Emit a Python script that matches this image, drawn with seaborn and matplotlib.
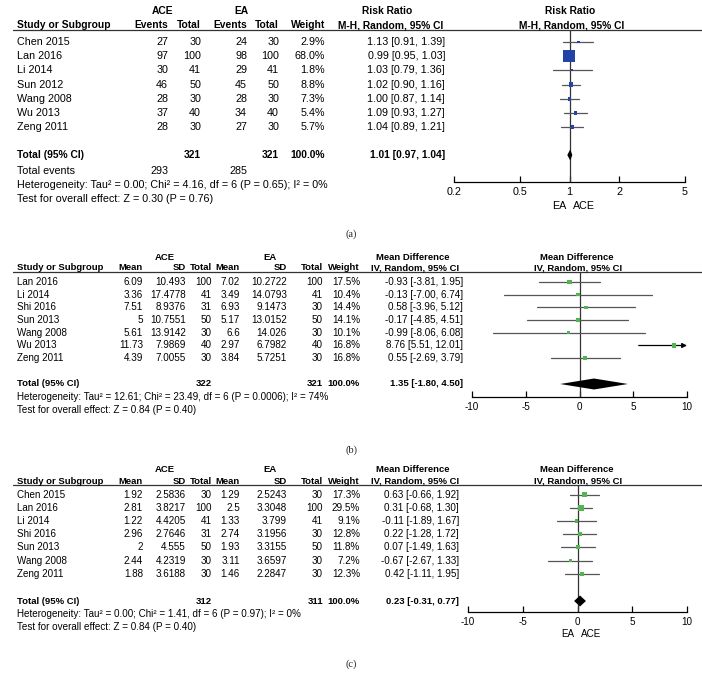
import numpy as np
import pandas as pd
import matplotlib
matplotlib.use("Agg")
import matplotlib.pyplot as plt
import seaborn as sns

# ---- panel (a): risk ratio ----
a_studies = ["Chen 2015", "Lan 2016", "Li 2014", "Sun 2012", "Wang 2008", "Wu 2013", "Zeng 2011"]
a_ace_events = [27, 97, 30, 46, 28, 37, 28]
a_ace_total = [30, 100, 41, 50, 30, 40, 30]
a_ea_events = [24, 98, 29, 45, 28, 34, 27]
a_ea_total = [30, 100, 41, 50, 30, 40, 30]
a_weight = [2.9, 68.0, 1.8, 8.8, 7.3, 5.4, 5.7]
a_est = [1.13, 0.99, 1.03, 1.02, 1.00, 1.09, 1.04]
a_lo = [0.91, 0.95, 0.79, 0.90, 0.87, 0.93, 0.89]
a_hi = [1.39, 1.03, 1.36, 1.16, 1.14, 1.27, 1.21]
a_pooled = [1.01, 0.97, 1.04]
a_het = "Heterogeneity: Tau² = 0.00; Chi² = 4.16, df = 6 (P = 0.65); I² = 0%"
a_test = "Test for overall effect: Z = 0.30 (P = 0.76)"
a_ticks = [0.2, 0.5, 1, 2, 5]

# ---- panel (b): mean difference ----
b_studies = ["Lan 2016", "Li 2014", "Shi 2016", "Sun 2013", "Wang 2008", "Wu 2013", "Zeng 2011"]
b_ace_mean = [6.09, 3.36, 7.51, 5, 5.61, 11.73, 4.39]
b_ace_sd = [10.493, 17.4778, 8.9376, 10.7551, 13.9142, 7.9869, 7.0055]
b_ace_total = [100, 41, 31, 50, 30, 40, 30]
b_ea_mean = [7.02, 3.49, 6.93, 5.17, 6.6, 2.97, 3.84]
b_ea_sd = [10.2722, 14.0793, 9.1473, 13.0152, 14.026, 6.7982, 5.7251]
b_ea_total = [100, 41, 30, 50, 30, 40, 30]
b_weight = [17.5, 10.4, 14.4, 14.1, 10.1, 16.8, 16.8]
b_est = [-0.93, -0.13, 0.58, -0.17, -0.99, 8.76, 0.55]
b_lo = [-3.81, -7.00, -3.96, -4.85, -8.06, 5.51, -2.69]
b_hi = [1.95, 6.74, 5.12, 4.51, 6.08, 12.01, 3.79]
b_pooled = [1.35, -1.80, 4.50]
b_het = "Heterogeneity: Tau² = 12.61; Chi² = 23.49, df = 6 (P = 0.0006); I² = 74%"
b_test = "Test for overall effect: Z = 0.84 (P = 0.40)"

# ---- panel (c): mean difference ----
c_studies = ["Chen 2015", "Lan 2016", "Li 2014", "Shi 2016", "Sun 2013", "Wang 2008", "Zeng 2011"]
c_ace_mean = [1.92, 2.81, 1.22, 2.96, 2, 2.44, 1.88]
c_ace_sd = [2.5836, 3.8217, 4.4205, 2.7646, 4.555, 4.2319, 3.6188]
c_ace_total = [30, 100, 41, 31, 50, 30, 30]
c_ea_mean = [1.29, 2.5, 1.33, 2.74, 1.93, 3.11, 1.46]
c_ea_sd = [2.5243, 3.3048, 3.799, 3.1956, 3.3155, 3.6597, 2.2847]
c_ea_total = [30, 100, 41, 30, 50, 30, 30]
c_weight = [17.3, 29.5, 9.1, 12.8, 11.8, 7.2, 12.3]
c_est = [0.63, 0.31, -0.11, 0.22, 0.07, -0.67, 0.42]
c_lo = [-0.66, -0.68, -1.89, -1.28, -1.49, -2.67, -1.11]
c_hi = [1.92, 1.30, 1.67, 1.72, 1.63, 1.33, 1.95]
c_pooled = [0.23, -0.31, 0.77]
c_het = "Heterogeneity: Tau² = 0.00; Chi² = 1.41, df = 6 (P = 0.97); I² = 0%"
c_test = "Test for overall effect: Z = 0.84 (P = 0.40)"

total_weight = "100.0%"
md_ticks = [-10, -5, 0, 5, 10]

W, H = 702, 681
BLUE = "#2144a6"
GREEN = "#52b552"

sns.set_theme(style="white")
plt.rcParams["font.family"] = ["Liberation Sans", "DejaVu Sans"]

fig = plt.figure(figsize=(W / 100, H / 100), dpi=100)
bg = fig.add_axes([0, 0, 1, 1])
bg.set_xlim(0, W)
bg.set_ylim(H, 0)
bg.axis("off")


def put(x, y, s, ha="left", bold=False, size=7.4):
    # regular text in the source is a little wider than the bold headers
    fs = size if bold else size * 1.045
    bg.text(x, y, s, ha=ha, va="center", fontsize=fs,
            fontweight="bold" if bold else "normal", color="black")


def caption(y, s):
    bg.text(351, y, s, ha="center", va="center", fontsize=7.5, family="Liberation Serif")


def g(v):
    return f"{v:g}"


def forest(top, bottom, left, right, row0, sp, est, lo, hi, weight, pooled, total_y,
           xlim, ticks, ref, color, k, log, size):
    ax = fig.add_axes([left / W, 1 - bottom / H, (right - left) / W, (bottom - top) / H])
    ax.patch.set_visible(False)
    df = pd.DataFrame({"est": est, "lo": lo, "hi": hi, "w": weight,
                       "row": np.arange(len(est))})
    if log:
        ax.set_xscale("log")
    ax.axvline(ref, color="#333333", lw=0.9, zorder=1)
    for r in df.itertuples():
        if r.hi > xlim[1]:
            # CI runs off the scale: clip with an arrow
            ax.annotate("", xy=(xlim[1], r.row), xytext=(r.lo, r.row),
                        arrowprops=dict(arrowstyle="-|>", color="black", lw=0.9,
                                        mutation_scale=7, shrinkA=0, shrinkB=0),
                        annotation_clip=False)
        else:
            ax.plot([r.lo, r.hi], [r.row, r.row], color="#555555", lw=0.9, zorder=2)
    wmin, wmax = min(weight), max(weight)
    c = 0.5184 * k * k  # marker area proportional to weight
    sns.scatterplot(data=df, x="est", y="row", size="w", sizes=(c * wmin, c * wmax),
                    size_norm=(wmin, wmax), marker="s", color=color, linewidth=0,
                    legend=False, ax=ax, zorder=3)
    rt = (total_y - row0) / sp
    h = 5.5 / sp
    ax.fill([pooled[1], pooled[0], pooled[2], pooled[0]], [rt, rt - h, rt, rt + h],
            color="black", lw=0, zorder=3)
    ax.set_xlim(*xlim)
    ax.set_ylim((bottom - row0) / sp, (top - row0) / sp)
    ax.set_xticks(ticks)
    ax.set_xticklabels([g(t) for t in ticks])
    ax.minorticks_off()
    ax.set_yticks([])
    ax.set_xlabel("")
    ax.set_ylabel("")
    for s in ["top", "left", "right"]:
        ax.spines[s].set_visible(False)
    ax.spines["bottom"].set_color("black")
    ax.spines["bottom"].set_linewidth(0.9)
    ax.tick_params(axis="x", direction="in", length=4, width=0.9, pad=3.5,
                   labelsize=size * 1.045, colors="black", bottom=True)
    return ax


def side_labels(ax, ref, y, size):
    for s, dx, ha in [("EA", -2.5, "right"), ("ACE", 2.5, "left")]:
        ax.annotate(s, xy=(ref, 1 - y / H), xycoords=("data", "figure fraction"),
                    xytext=(dx, 0), textcoords="offset points", ha=ha, va="center",
                    fontsize=size * 1.045, color="black", annotation_clip=False)


# ================= panel (a) =================
sa = 7.4
row0, sp = 42, 14.2
put(162, 11, "ACE", "center", True, sa)
put(241, 11, "EA", "center", True, sa)
put(387, 11, "Risk Ratio", "center", True, sa)
put(570, 11, "Risk Ratio", "center", True, sa)
put(17, 25, "Study or Subgroup", "left", True, sa)
for x, s in [(168, "Events"), (201, "Total"), (247, "Events"), (279, "Total"), (325, "Weight")]:
    put(x, 25, s, "right", True, sa)
put(391, 25, "M-H, Random, 95% CI", "center", True, sa)
put(572, 25, "M-H, Random, 95% CI", "center", True, sa)
bg.plot([13, W], [30, 30], color="#333333", lw=0.9)
for i, name in enumerate(a_studies):
    y = row0 + i * sp
    put(17, y, name, size=sa)
    put(168, y, str(a_ace_events[i]), "right", size=sa)
    put(201, y, str(a_ace_total[i]), "right", size=sa)
    put(247, y, str(a_ea_events[i]), "right", size=sa)
    put(279, y, str(a_ea_total[i]), "right", size=sa)
    put(325, y, f"{a_weight[i]:.1f}%", "right", size=sa)
    put(445, y, f"{a_est[i]:.2f} [{a_lo[i]:.2f}, {a_hi[i]:.2f}]", "right", size=sa)
put(17, 155, "Total (95% CI)", "left", True, sa)
put(201, 155, str(sum(a_ace_total)), "right", True, sa)
put(279, 155, str(sum(a_ea_total)), "right", True, sa)
put(325, 155, total_weight, "right", True, sa)
put(445, 155, f"{a_pooled[0]:.2f} [{a_pooled[1]:.2f}, {a_pooled[2]:.2f}]", "right", True, sa)
put(17, 171.5, "Total events", size=sa)
put(168, 171.5, str(sum(a_ace_events)), "right", size=sa)
put(247, 171.5, str(sum(a_ea_events)), "right", size=sa)
put(17, 185, a_het, size=sa)
put(17, 198.5, a_test, size=sa)
axa = forest(30, 182, 454, 685, row0, sp, a_est, a_lo, a_hi, a_weight, a_pooled, 155,
             (0.2, 5), a_ticks, 1, BLUE, 1.45, True, sa)
side_labels(axa, 1, 206, sa)
caption(234, "(a)")


# ================= panels (b) and (c) =================
def md_panel(studies, am, asd, an, em, esd, en, weight, est, lo, hi, pooled, het, test,
             h1, h2, line, row0, sp, total_y, het_y, test_y, axis_y, ax_left, est_right,
             k, sub_y):
    sz = 6.8
    cols = [143, 186, 212, 240, 287, 323, 360]
    put(165, h1, "ACE", "center", True, sz)
    put(270, h1, "EA", "center", True, sz)
    put(413, h1, "Mean Difference", "center", True, sz)
    put(577, h1, "Mean Difference", "center", True, sz)
    put(17, h2, "Study or Subgroup", "left", True, sz)
    for x, s in zip(cols, ["Mean", "SD", "Total", "Mean", "SD", "Total", "Weight"]):
        put(x, h2, s, "right", True, sz)
    put(415, h2, "IV, Random, 95% CI", "center", True, sz)
    put(578, h2, "IV, Random, 95% CI", "center", True, sz)
    bg.plot([13, W], [line, line], color="#333333", lw=0.9)
    for i, name in enumerate(studies):
        y = row0 + i * sp
        put(17, y, name, size=sz)
        vals = [g(am[i]), g(asd[i]), str(an[i]), g(em[i]), g(esd[i]), str(en[i]),
                f"{weight[i]:.1f}%"]
        for x, v in zip(cols, vals):
            put(x, y, v, "right", size=sz)
        put(est_right, y, f"{est[i]:.2f} [{lo[i]:.2f}, {hi[i]:.2f}]", "right", size=sz)
    put(17, total_y, "Total (95% CI)", "left", True, sz)
    put(cols[2], total_y, str(sum(an)), "right", True, sz)
    put(cols[5], total_y, str(sum(en)), "right", True, sz)
    put(cols[6], total_y, total_weight, "right", True, sz)
    put(est_right, total_y, f"{pooled[0]:.2f} [{pooled[1]:.2f}, {pooled[2]:.2f}]",
        "right", True, sz)
    put(17, het_y, het, size=sz)
    put(17, test_y, test, size=sz)
    ax = forest(line, axis_y, ax_left, 687, row0, sp, est, lo, hi, weight, pooled, total_y,
                (-10, 10), md_ticks, 0, GREEN, k, False, sz)
    if sub_y is not None:
        side_labels(ax, 0, sub_y, sz)
    return ax


md_panel(b_studies, b_ace_mean, b_ace_sd, b_ace_total, b_ea_mean, b_ea_sd, b_ea_total,
         b_weight, b_est, b_lo, b_hi, b_pooled, b_het, b_test,
         257, 268, 272, 282, 12.7, 384, 397, 410, 397, 472, 463, 1.0, None)
caption(450, "(b)")

md_panel(c_studies, c_ace_mean, c_ace_sd, c_ace_total, c_ea_mean, c_ea_sd, c_ea_total,
         c_weight, c_est, c_lo, c_hi, c_pooled, c_het, c_test,
         469, 481, 485, 494.5, 13.2, 601, 614, 627.5, 612, 468, 459, 1.1, 634)
caption(664, "(c)")

fig.savefig("out.png", dpi=100)
